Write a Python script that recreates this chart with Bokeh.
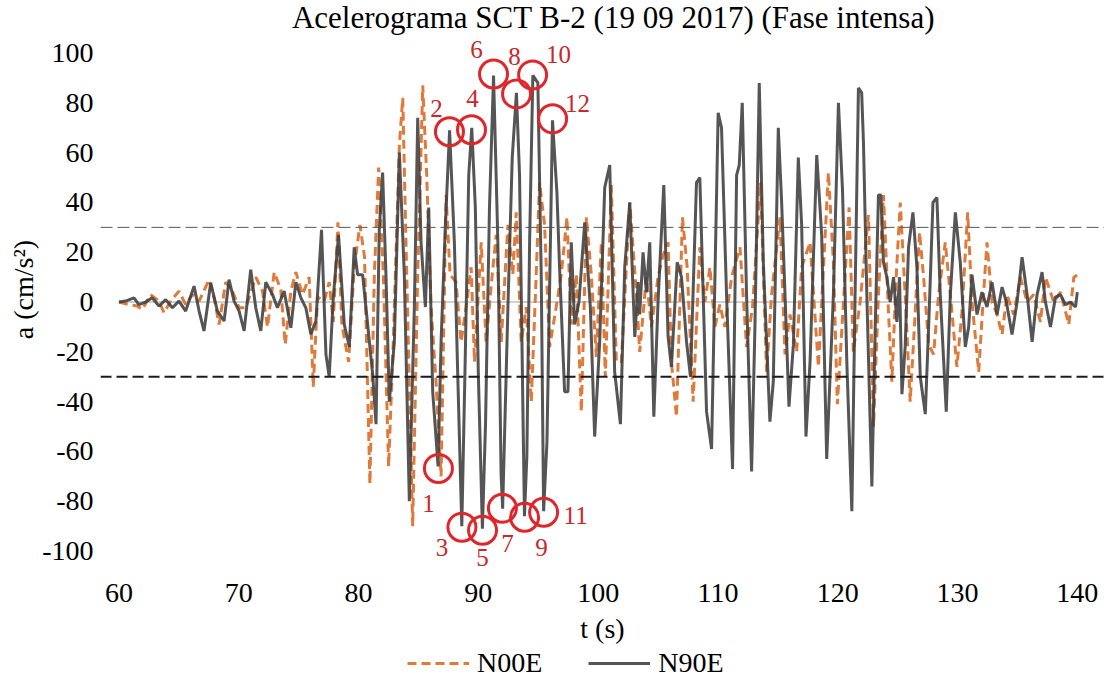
from bokeh.plotting import figure
from bokeh.layouts import column
from bokeh.models import (Range1d, FixedTicker, Span, Label, LabelSet, Legend,
                          LegendItem, ColumnDataSource)
from bokeh.embed import file_html
from bokeh.resources import INLINE

# --- data (local extrema of each record) ---
t_n00e = [60.0, 60.83, 61.53, 61.95, 62.64, 63.34, 63.76, 64.32, 65.01, 65.57,
          66.13, 66.69, 67.52, 67.94, 68.36, 68.91, 69.47, 70.03, 70.59, 71.42,
          71.98, 72.4, 72.96, 73.51, 73.88, 74.35, 74.77, 75.32, 75.88, 76.22,
          76.58, 77.14, 77.55, 77.89, 78.28, 78.61, 79.17, 79.64, 80.12, 80.5,
          80.95, 81.32, 81.68, 82.07, 82.51, 82.9, 83.41, 83.69, 83.96, 84.52,
          84.94, 85.36, 85.69, 86.05, 86.47, 86.89, 87.31, 87.64, 88.14, 88.56,
          88.98, 89.4, 89.68, 90.24, 90.65, 91.16, 91.49, 91.91, 92.47, 92.88,
          93.16, 93.58, 94.0, 94.42, 94.83, 95.11, 95.53, 95.95, 96.5, 96.92,
          97.4, 97.76, 98.18, 98.6, 99.02, 99.43, 99.85, 100.27, 100.6, 101.1,
          101.52, 101.94, 102.64, 103.2, 103.47, 104.03, 104.45, 105.0, 105.43, 105.84,
          106.12, 106.54, 107.04, 107.43, 107.93, 108.49, 108.91, 109.33, 109.75, 110.16,
          110.58, 111.14, 111.84, 112.39, 112.89, 113.56, 114.06, 114.48, 115.18, 115.6,
          116.02, 116.57, 116.99, 117.69, 118.39, 119.22, 119.64, 119.97, 120.48, 120.95,
          121.3, 121.87, 122.57, 122.99, 123.4, 123.82, 124.24, 124.52, 124.88, 125.22,
          125.63, 126.05, 126.47, 126.83, 127.17, 127.59, 128.0, 128.42, 128.98, 129.4,
          129.95, 130.37, 130.85, 131.21, 131.77, 132.13, 132.46, 132.88, 133.3, 133.72,
          134.13, 134.69, 135.25, 135.81, 136.36, 136.92, 137.34, 138.04, 138.6, 139.29,
          139.71, 140.04]
a_n00e = [0, -1, -1.6, -3, 3, 0.4, -4.3, 0.4, 4.4, -1,
          3, 0.4, 9, 1.7, -9, 8, 4.4, -2.3, -2.3, 10,
          4.4, -10, 12, 5, -17, 4.4, 12, 3, 10, -34,
          2, 0.4, 8, -8, 32, -9, -24, 14, 31, 18,
          -73, 11, 54, 11, -66, -16, 63, 82, 24, -90,
          11, 87, 51, -2, -32, -70, 43, 11, 8, -16,
          -2, 14, -24, 24, -16, 11, 27, -16, 31, 11,
          36, -16, -2, -40, 11, 48, 31, -18, -2, 11,
          34, -9, 11, -44, 34, 11, -22, 24, -30, 47,
          -24, -24, 40, 3, -20, 10, -10, 10, 19, 24,
          -24, -46, 34, 14, -40, 22, 0, 14, -10, -1,
          -10, 10, 22, -18, -2, 48, -28, 3, 34, -21,
          -5, -20, 14, 24, -26, 52, 16, -41, 0, 38,
          -20, 0, 35, -50, 3, 43, -4, -32, 10, 40,
          3, -40, -4, 28, 10, -17, -21, 3, 24, 3,
          -26, -4, 36, 0, -28, 0, 24, 0, -5, -13,
          3, -5, 10, 0, 3, -8, 10, 0, 4, -9,
          10, 11]

t_n90e = [60.0, 60.55, 61.25, 61.67, 62.23, 62.78, 63.34, 63.9, 64.46, 65.01,
          65.57, 66.27, 66.69, 67.1, 67.66, 68.22, 68.78, 69.19, 69.61, 70.03,
          70.45, 71.0, 71.42, 71.84, 72.26, 72.82, 73.23, 73.79, 74.35, 74.77,
          75.19, 75.6, 76.02, 76.44, 76.91, 77.28, 77.55, 77.89, 78.33, 78.81,
          79.23, 79.64, 79.92, 80.34, 80.76, 81.18, 81.46, 81.73, 82.01, 82.29,
          82.57, 82.99, 83.41, 83.82, 84.24, 84.66, 84.94, 85.22, 85.58, 85.86,
          86.19, 86.64, 86.89, 87.25, 87.6, 88.0, 88.28, 88.62, 88.88, 89.2,
          89.45, 89.75, 90.0, 90.34, 90.6, 90.93, 91.27, 91.63, 91.9, 92.03,
          92.47, 92.83, 93.18, 93.44, 93.85, 94.05, 94.28, 94.55, 94.97, 95.25,
          95.45, 95.73, 96.19, 96.56, 96.78, 97.2, 97.48, 97.76, 98.04, 98.4,
          98.88, 99.35, 99.71, 100.13, 100.55, 100.97, 101.38, 101.86, 102.22, 102.64,
          103.06, 103.34, 103.47, 103.75, 104.03, 104.31, 104.65, 105.0, 105.48, 105.84,
          106.12, 106.6, 106.96, 107.38, 107.71, 108.21, 108.49, 109.05, 109.47, 110.02,
          110.3, 110.72, 111.22, 111.56, 111.78, 112.03, 112.39, 112.81, 113.09, 113.45,
          113.79, 114.34, 114.62, 115.04, 115.32, 115.6, 115.93, 116.3, 116.71, 116.99,
          117.35, 117.69, 118.25, 118.66, 119.08, 119.64, 120.06, 120.4, 120.76, 121.18,
          121.45, 121.73, 122.0, 122.15, 122.43, 122.85, 123.13, 123.4, 123.6, 123.82,
          124.1, 124.38, 124.66, 124.94, 125.16, 125.36, 125.63, 125.91, 126.28, 126.61,
          126.89, 127.31, 127.59, 127.95, 128.28, 128.56, 129.06, 129.4, 129.82, 130.23,
          130.65, 130.93, 131.21, 131.63, 132.04, 132.46, 132.88, 133.3, 133.72, 134.08,
          134.55, 134.97, 135.39, 135.81, 136.23, 136.64, 137.06, 137.34, 137.76, 138.18,
          138.6, 139.01, 139.43, 139.85, 140.0]
a_n90e = [0, 0.4, 1.7, -1, 0, 1.7, -1.6, 1, -2.3, 0.4,
          -3.6, 6.4, -3.6, -11.6, 7.7, -3.6, -7.6, 9, 0.4, -3.6,
          -11.6, 13, -2.3, -11.6, 8, 3, -2.3, 4.4, -10.3, 8,
          1.7, -2.3, -12.9, -7.6, 29, -21, -30, 1.7, 27, -9,
          -18, 22, 11, 11, -9, -29, -49, 29, 52, 11,
          -40, -16, 60, 11, -80, -2, 74, 24, -2, 38,
          -36, -66, -16, 31, 69, 24, -29, -90, -29, 51,
          70, 38, -29, -91, -49, 38, 91, 24, -69, -83,
          -2, 58, 84, 51, -86, -62, 24, 91, 88, 11,
          -84, -56, 73, 44, 14, -36, -36, 24, -9, 0,
          32, -2, -54, -16, 46, 55, -28, -49, 14, 40,
          -14, 8, -5, 20, 4, 24, -46, 0, 47, -14,
          -26, 16, 10, -16, -30, 48, 50, -44, -59, 76,
          70, 3, -67, 51, 55, 80, 3, -68, -10, 88,
          16, -48, -32, 70, 40, 3, -42, -17, 58, 31,
          -54, -24, 59, 27, -63, 3, 80, 45, -24, -84,
          3, 86, 84, 64, 3, -74, -10, 43, 43, 16,
          10, 0, 10, -8, 10, -37, -18, 22, 36, 14,
          -30, -45, -10, 40, 42, 3, -44, 3, 36, 16,
          -18, -10, 11, -5, 4, -2, 8, -5, 6, 0,
          -13, 0, 18, 3, -16, 3, 12, 0, -10, 2,
          3, -1, 0, -2, 4]

# numbered peaks circled in the original
peak_t = [86.67, 87.59, 88.63, 89.43, 90.35, 91.27, 92.01, 93.19, 93.86, 94.53, 95.45, 96.2]
peak_a = [-66.8, 68.4, -90.4, 69.2, -91.6, 91.6, -82.8, 83.6, -86.4, 91.2, -84.4, 73.6]
peak_lbl = ["1", "2", "3", "4", "5", "6", "7", "8", "9", "10", "11", "12"]

threshold = 30
t_ticks = [60, 70, 80, 90, 100, 110, 120, 130, 140]
a_ticks = [-100, -80, -60, -40, -20, 0, 20, 40, 60, 80, 100]

SERIF = "Liberation Serif"
ORANGE = "#E07A3A"
DARK = "#3d3d3d"
RED = "#E0262A"

p = figure(width=1104, height=647, output_backend="svg", toolbar_location=None,
           x_range=Range1d(58.46, 142.27), y_range=Range1d(-111.0, 121.1),
           min_border_left=100, min_border_right=0, min_border_top=0,
           min_border_bottom=69)
p.outline_line_color = None
p.grid.visible = False
p.background_fill_color = "white"

for ax in (p.xaxis[0], p.yaxis[0]):
    ax.axis_line_color = None
    ax.major_tick_line_color = None
    ax.minor_tick_line_color = None
    ax.major_tick_out = 0
    ax.major_label_text_font = SERIF
    ax.major_label_text_font_size = "28px"
    ax.major_label_text_color = "black"
    ax.axis_label_text_font = SERIF
    ax.axis_label_text_font_size = "28px"
    ax.axis_label_text_font_style = "normal"
    ax.axis_label_text_color = "black"

p.xaxis.ticker = FixedTicker(ticks=t_ticks)
p.yaxis.ticker = FixedTicker(ticks=a_ticks)
p.yaxis.major_label_overrides = {v: str(v) for v in a_ticks}
p.xaxis.major_label_standoff = 5
p.yaxis.major_label_standoff = 7
p.xaxis.axis_label = "t (s)"
p.yaxis.axis_label = "a (cm/s²)"
p.xaxis.axis_label_standoff = 8
p.yaxis.axis_label_standoff = 0

# zero axis line across the plot area
p.segment(x0=[t_ticks[0]], y0=[0], x1=[t_ticks[-1]], y1=[0],
          line_color="#d0d0d0", line_width=2)

p.add_layout(Span(location=threshold, dimension="width", line_color="#555555",
                  line_width=1, line_dash="12 5"))
p.add_layout(Span(location=-threshold, dimension="width", line_color="#1a1a1a",
                  line_width=2, line_dash="11 5"))

n00e_style = dict(line_color=ORANGE, line_width=3, line_dash="9 5")
n90e_style = dict(line_color=DARK, line_width=3, line_alpha=0.88)
p.line(t_n00e, a_n00e, **n00e_style)
p.line(t_n90e, a_n90e, **n90e_style)

# circled peaks and their numbers
p.scatter(peak_t, peak_a, marker="circle", size=28, fill_alpha=0,
          line_color=RED, line_width=3)
dx = [-10, -13, -20, 1, 0, -17, 5, -2, 17, 26, 32, 25]
dy = [-35, 23, -20, 31, -27, 24, -35, 37, -30, 20, -3, 15]
src = ColumnDataSource(dict(x=peak_t, y=peak_a, txt=peak_lbl, dx=dx, dy=dy))
p.add_layout(LabelSet(x="x", y="y", text="txt", source=src, x_offset="dx", y_offset="dy",
                      text_align="center", text_baseline="middle",
                      text_font=SERIF, text_font_size="25px", text_color="#C8282C"))

p.add_layout(Label(x=513, y=561, x_units="screen", y_units="screen",
                   text="Acelerograma SCT B-2 (19 09 2017) (Fase intensa)",
                   text_align="center", text_baseline="middle",
                   text_font=SERIF, text_font_size="31px", text_color="black"))

# legend strip underneath (a bokeh legend below the axis swallows the frame);
# its renderers carry the real records but sit outside this strip's y range
leg = figure(width=1104, height=32, output_backend="svg", toolbar_location=None,
             x_range=Range1d(58.46, 142.27), y_range=Range1d(1000, 1001),
             x_axis_location=None, y_axis_location=None,
             min_border_left=100, min_border_right=0, min_border_top=0, min_border_bottom=0)
leg.outline_line_color = None
leg.grid.visible = False
k1 = leg.line(t_n00e, a_n00e, **n00e_style)
k2 = leg.line(t_n90e, a_n90e, **n90e_style)
legend = Legend(items=[LegendItem(label="N00E", renderers=[k1]),
                       LegendItem(label="N90E", renderers=[k2])],
                location=(307, 0), orientation="horizontal",
                border_line_color=None, background_fill_alpha=0,
                padding=0, margin=0, spacing=46, label_standoff=8,
                glyph_width=62, glyph_height=32, label_height=32,
                label_text_font=SERIF, label_text_font_size="28px",
                label_text_color="black")
leg.add_layout(legend)

open("out.html", "w").write(file_html(column(p, leg, spacing=0), INLINE))
